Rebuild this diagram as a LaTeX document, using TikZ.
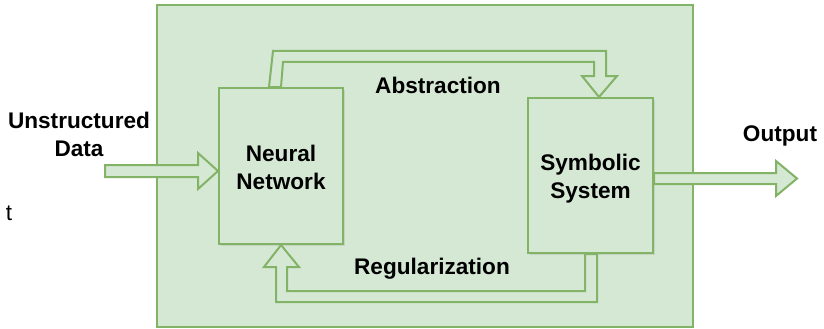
\documentclass[tikz,border=0pt]{standalone}
\usepackage{fontspec}
\setmainfont{Liberation Sans}
\usetikzlibrary{calc,shadows}
\definecolor{boxfill}{HTML}{D5E8D4}
\definecolor{boxline}{HTML}{82B366}
\tikzset{
  panel/.style={draw=boxline, fill=boxfill, line width=2pt, inner sep=0pt},
  block/.style={panel, drop shadow={shadow xshift=2pt, shadow yshift=-2pt, opacity=0.2}},
  flexarrow/.style={draw=boxline, fill=boxfill, line width=2pt, line join=miter},
  lbl/.style={font=\bfseries\fontsize{22.6}{28}\selectfont, align=center, inner sep=0pt}
}
\begin{document}
\begin{tikzpicture}[x=1pt, y=-1pt]
  \useasboundingbox (0,0) rectangle (824,329);
  \fill[white] (0,0) rectangle (824,329);

  % enclosing frame
  \node[panel, minimum width=536pt, minimum height=322pt] (frame) at (425,166) {};

  % the two processing blocks
  \node[block, minimum width=124pt, minimum height=156pt] (nn) at (281,166) {};
  \node[block, minimum width=125pt, minimum height=155pt] (ss) at (590.5,175.5) {};
  \node[lbl] (nnText) at ($(nn.center)+(0,1.5)$) {Neural\\Network};
  \node[lbl] (ssText) at ($(ss.center)+(0,3)$) {Symbolic\\System};

  % input arrow into the neural network
  \draw[flexarrow] ($(nn.west)+(0,5)$) -- ++(-20,-18) -- ++(0,12) -- ++(-93,0)
    -- ++(0,12) -- ++(93,0) -- ++(0,12) -- cycle;

  % output arrow
  \draw[flexarrow] ($(ss.east)+(0,-2.5)$) -- ++(122,0) -- ++(0,-12) -- ++(21,17.5)
    -- ++(-21,17.5) -- ++(0,-12) -- ++(-122,0) -- cycle;

  % abstraction arrow (neural network -> symbolic system)
  \draw[flexarrow] ($(nn.north)+(-12,0)$) -- ++(4,-36) -- ($(ss.north)+(15.5,-46)$)
    -- ++(0,25) -- ++(11,0) -- ($(ss.north)+(8.5,0)$) -- ++(-17,-21) -- ++(12,0)
    -- ($(ss.north)+(3.5,-35)$) -- ($(nn.north)+(2,-25)$) -- (nn.north) -- cycle;

  % regularization arrow (symbolic system -> neural network)
  \draw[flexarrow] ($(ss.south)+(-5.5,0)$) -- ++(0,37) -- ($(nn.south)+(6,46)$)
    -- ++(0,-24) -- ++(12,0) -- (nn.south) -- ++(-17,22) -- ++(12,0)
    -- ($(nn.south)+(-5,57)$) -- ($(ss.south)+(6.5,48)$) -- ($(ss.south)+(6.5,0)$) -- cycle;

  % labels
  \node[lbl] (absLbl) at (438,85.5) {Abstraction};
  \node[lbl] (regLbl) at (432,268.5) {Regularization};
  \node[lbl] (outLbl) at (780,135.5) {Output};
  \node[lbl] (inLbl) at (79,134.5) {Unstructured\\Data};
  \node[font=\fontsize{22.6}{28}\selectfont, inner sep=0pt] (stray) at (9,213) {t};
\end{tikzpicture}
\end{document}
